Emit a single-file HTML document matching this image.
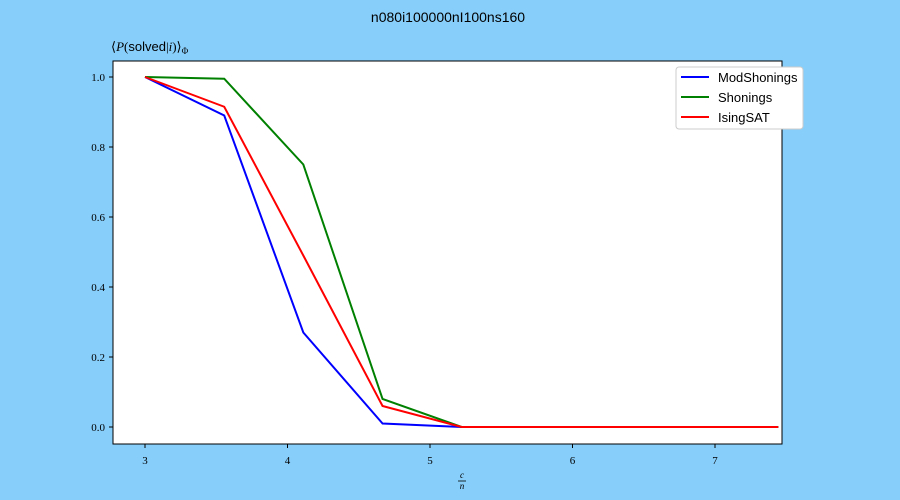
<!DOCTYPE html>
<html><head><meta charset="utf-8"><style>
body{margin:0;background:#87cefa;}
svg{display:block;font-family:"Liberation Sans",sans-serif;}
</style></head><body>
<svg id="c" width="900" height="500">
<rect width="900" height="500" fill="#87cefa"/>
<text x="448" y="22" text-anchor="middle" font-size="14">n080i100000nI100ns160</text>
<text x="111" y="51" font-size="13" font-family="Liberation Serif,serif">⟨<tspan font-style="italic">P</tspan>(<tspan font-family="Liberation Sans,sans-serif">solved</tspan>|<tspan font-style="italic">i</tspan>)⟩<tspan font-size="9" dy="3">Φ</tspan></text>
<rect x="113" y="61" width="669" height="383" fill="#fff" stroke="#000"/>
<g id="ticks"></g>
<g id="lines"></g>
<g font-family="Liberation Serif,serif" font-style="italic" font-size="9">
<text x="462" y="478" text-anchor="middle">c</text>
<line x1="458" y1="481" x2="466" y2="481" stroke="#000" stroke-width="0.8"/>
<text x="462" y="489" text-anchor="middle">n</text>
</g>
<g>
<rect x="676" y="67" width="127" height="62" rx="3" fill="#fff" stroke="#ccc"/>
<g><line x1="681" y1="77" x2="709" y2="77" stroke="blue" stroke-width="2"/><text x="718" y="82" font-size="13">ModShonings</text></g>
<g><line x1="681" y1="97" x2="709" y2="97" stroke="green" stroke-width="2"/><text x="718" y="102" font-size="13">Shonings</text></g>
<g><line x1="681" y1="117" x2="709" y2="117" stroke="red" stroke-width="2"/><text x="718" y="122" font-size="13">IsingSAT</text></g>
</g>
</svg>
<script>
const xValues=[3,3.556,4.111,4.667,5.222,5.778,6.333,6.889,7.444];
const modShonings=[1.0,0.89,0.27,0.01,0,0,0,0,0];
const shonings=[1.0,0.995,0.75,0.08,0,0,0,0,0];
const isingSAT=[1.0,0.915,0.49,0.06,0,0,0,0,0];
const xTicks=[3,4,5,6,7];
const yTicks=[0.0,0.2,0.4,0.6,0.8,1.0];
const NS="http://www.w3.org/2000/svg";
function sx(v){return 145+(v-3)*142.5;}
function sy(v){return 427-v*350;}
const tg=document.getElementById('ticks');
function mk(t,a,p){const e=document.createElementNS(NS,t);for(const k in a)e.setAttribute(k,a[k]);p.appendChild(e);return e;}
xTicks.forEach(v=>{
 const l=mk('line',{x1:sx(v),x2:sx(v),y1:444,y2:448,stroke:'#000'},tg);
 
 
 const t=mk('text',{x:sx(v),y:464,'text-anchor':'middle','font-size':11,'font-family':'Liberation Serif,serif'},tg);
 t.textContent=v;
 
 
});
yTicks.forEach(v=>{
 const l=mk('line',{x1:109,x2:113,y1:sy(v),y2:sy(v),stroke:'#000'},tg);
 
 
 const t=mk('text',{x:105,y:sy(v)+4,'text-anchor':'end','font-size':11,'font-family':'Liberation Serif,serif'},tg);
 t.textContent=v.toFixed(1);
 
 
});
const lg=document.getElementById('lines');
[[modShonings,'blue','modshonings'],[shonings,'green','shonings'],[isingSAT,'red','isingsat']].forEach(([d,c,n])=>{
 const p=mk('polyline',{points:d.map((v,i)=>sx(xValues[i])+','+sy(v)).join(' '),fill:'none',stroke:c,'stroke-width':2},lg);
 
 
});
</script>
</body></html>
